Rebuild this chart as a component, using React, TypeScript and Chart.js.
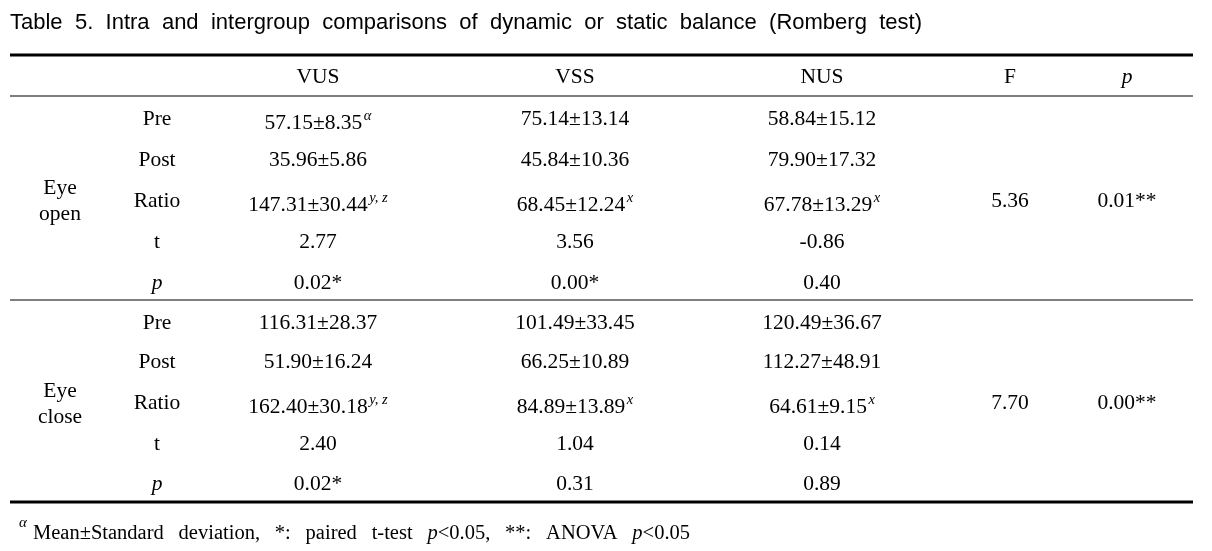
import React, { useEffect, useRef } from "react";
import { Chart, registerables } from "chart.js";

Chart.register(...registerables);

// ---------------- data ----------------
const titleText = "Table 5. Intra and intergroup comparisons of dynamic or static balance (Romberg test)";
const columnHeaders = ["VUS", "VSS", "NUS", "F", "p"];
const rowLabels = ["Pre", "Post", "Ratio", "t", "p"];
const conditionLabels = [["Eye", "open"], ["Eye", "close"]];

const eyeOpenVUS = ["57.15±8.35", "35.96±5.86", "147.31±30.44", "2.77", "0.02*"];
const eyeOpenVSS = ["75.14±13.14", "45.84±10.36", "68.45±12.24", "3.56", "0.00*"];
const eyeOpenNUS = ["58.84±15.12", "79.90±17.32", "67.78±13.29", "-0.86", "0.40"];
const eyeCloseVUS = ["116.31±28.37", "51.90±16.24", "162.40±30.18", "2.40", "0.02*"];
const eyeCloseVSS = ["101.49±33.45", "66.25±10.89", "84.89±13.89", "1.04", "0.31"];
const eyeCloseNUS = ["120.49±36.67", "112.27±48.91", "64.61±9.15", "0.14", "0.89"];

const eyeOpenVUSSup = ["α", "", "y, z", "", ""];
const eyeOpenVSSSup = ["", "", "x", "", ""];
const eyeOpenNUSSup = ["", "", "x", "", ""];
const eyeCloseVUSSup = ["", "", "y, z", "", ""];
const eyeCloseVSSSup = ["", "", "x", "", ""];
const eyeCloseNUSSup = ["", "", "x", "", ""];

const fValues = ["5.36", "7.70"];
const anovaP = ["0.01**", "0.00**"];

const footnoteParts = [
  { t: "Mean±Standard deviation, *: paired t-test ", i: false },
  { t: "p", i: true },
  { t: "<0.05, **: ANOVA ", i: false },
  { t: "p", i: true },
  { t: "<0.05", i: false },
];

// ---------------- layout ----------------
const W = 1212;
const H = 551;
const SERIF = '"Liberation Serif", "Times New Roman", serif';
const SANS = '"Liberation Sans", Arial, sans-serif';
const BODY = 21.5;
const SUP = 14.5;
const colX = [60, 157, 318, 575, 822, 1010, 1127];
const headerY = 83;
const blockRowY = [
  [125, 166, 207, 248, 289],
  [329, 368, 409, 450, 490],
];
const condY = [
  [194, 220],
  [397, 423],
];
const supShift = 4;
const ruleLeft = 10;
const ruleRight = 1193;
const rules = [
  { y: 55, w: 3 },
  { y: 96, w: 1.2 },
  { y: 300, w: 1.2 },
  { y: 502, w: 3 },
];

type Seg = { t: string; italic?: boolean; sup?: boolean; sans?: boolean; size?: number };
type Cell = { x: number; y: number; segs: Seg[]; align?: "center" | "left"; justify?: number };

function fontOf(s: Seg) {
  const size = s.size ?? (s.sup ? SUP : BODY);
  return `${s.italic ? "italic " : ""}${size}px ${s.sans ? SANS : SERIF}`;
}

function drawRich(ctx: CanvasRenderingContext2D, x: number, y: number, cell: Cell) {
  const segs = cell.segs;
  const widths = segs.map((s) => {
    ctx.font = fontOf(s);
    return ctx.measureText(s.t).width + (s.sup ? 1.5 : 0);
  });
  let natural = widths.reduce((a, b) => a + b, 0);
  let extra = 0;
  if (cell.justify) {
    const nSpaces = segs.reduce((a, s) => a + (s.t.match(/ /g) || []).length, 0);
    if (nSpaces > 0) extra = (cell.justify - natural) / nSpaces;
    natural = cell.justify;
  }
  let cx = cell.align === "left" ? x : x - natural / 2;
  ctx.fillStyle = "#000";
  ctx.textBaseline = "alphabetic";
  ctx.textAlign = "left";
  segs.forEach((s, i) => {
    ctx.font = fontOf(s);
    const yy = s.sup ? y - 9 : y;
    const sx = s.sup ? cx + 1.5 : cx;
    if (extra !== 0) {
      const words = s.t.split(" ");
      let wx = sx;
      const sp = ctx.measureText(" ").width + extra;
      words.forEach((w, k) => {
        ctx.fillText(w, wx, yy);
        wx += ctx.measureText(w).width;
        if (k < words.length - 1) wx += sp;
      });
      cx = wx;
    } else {
      ctx.fillText(s.t, sx, yy);
      cx += widths[i];
    }
  });
}

function buildCells(): Cell[] {
  const cells: Cell[] = [];
  cells.push({ x: 10, y: 29, segs: [{ t: titleText, sans: true, size: 22 }], align: "left", justify: 912 });
  columnHeaders.forEach((h, i) => {
    cells.push({ x: colX[i + 2], y: headerY, segs: [{ t: h, italic: h === "p" }] });
  });
  const blocks = [
    { vals: [eyeOpenVUS, eyeOpenVSS, eyeOpenNUS], sups: [eyeOpenVUSSup, eyeOpenVSSSup, eyeOpenNUSSup] },
    { vals: [eyeCloseVUS, eyeCloseVSS, eyeCloseNUS], sups: [eyeCloseVUSSup, eyeCloseVSSSup, eyeCloseNUSSup] },
  ];
  blocks.forEach((b, bi) => {
    conditionLabels[bi].forEach((t, k) => cells.push({ x: colX[0], y: condY[bi][k], segs: [{ t }] }));
    rowLabels.forEach((r, ri) => {
      const ry = blockRowY[bi][ri];
      cells.push({ x: colX[1], y: ry, segs: [{ t: r, italic: r === "p" }] });
      b.vals.forEach((col, ci) => {
        const sup = b.sups[ci][ri];
        const segs: Seg[] = [{ t: col[ri] }];
        if (sup) segs.push({ t: sup, sup: true, italic: true });
        cells.push({ x: colX[ci + 2], y: ry + (sup ? supShift : 0), segs });
      });
    });
    cells.push({ x: colX[5], y: blockRowY[bi][2], segs: [{ t: fValues[bi] }] });
    cells.push({ x: colX[6], y: blockRowY[bi][2], segs: [{ t: anovaP[bi] }] });
  });
  cells.push({ x: 19, y: 527, segs: [{ t: "α", italic: true, size: 15 }], align: "left" });
  cells.push({
    x: 33,
    y: 539,
    segs: footnoteParts.map((p) => ({ t: p.t, italic: p.i, size: 20.5 })),
    align: "left",
    justify: 657,
  });
  return cells;
}

const tablePlugin = {
  id: "tableText",
  afterDatasetsDraw(chart: any) {
    const ctx = chart.ctx as CanvasRenderingContext2D;
    chart.data.datasets.forEach((ds: any, di: number) => {
      if (ds.label !== "cells") return;
      const meta = chart.getDatasetMeta(di);
      meta.data.forEach((el: any, i: number) => {
        ctx.save();
        drawRich(ctx, el.x, el.y, ds.data[i] as Cell);
        ctx.restore();
      });
    });
  },
};

export default function App() {
  const ref = useRef<HTMLCanvasElement | null>(null);
  useEffect(() => {
    if (!ref.current) return;
    const ruleSets = rules.map((r) => ({
      type: "line" as const,
      label: "rule",
      data: [
        { x: ruleLeft, y: r.y },
        { x: ruleRight, y: r.y },
      ],
      borderColor: "#000",
      borderWidth: r.w,
      pointRadius: 0,
      showLine: true,
      fill: false,
    }));
    const chart = new Chart(ref.current, {
      type: "scatter",
      data: {
        datasets: [
          ...ruleSets,
          {
            label: "cells",
            data: buildCells() as any,
            pointRadius: 0,
            showLine: false,
          } as any,
        ],
      },
      options: {
        animation: false,
        responsive: false,
        devicePixelRatio: 1,
        layout: { padding: 0 },
        plugins: { legend: { display: false }, tooltip: { enabled: false }, title: { display: false } },
        events: [],
        scales: {
          x: { type: "linear", min: 0, max: W, display: false },
          y: { type: "linear", min: 0, max: H, reverse: true, display: false },
        },
      },
      plugins: [tablePlugin],
    });
    return () => chart.destroy();
  }, []);
  return (
    <div style={{ position: "fixed", left: 0, top: 0, width: W, height: H, background: "#fff" }}>
      <canvas ref={ref} width={W} height={H} style={{ display: "block", width: W, height: H }} />
    </div>
  );
}
